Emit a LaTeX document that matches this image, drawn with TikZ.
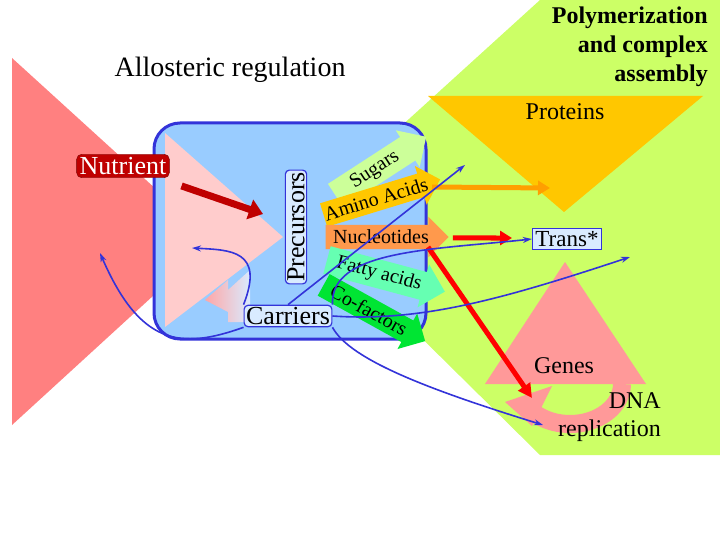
\documentclass[tikz,border=0pt]{standalone}
\usepackage{fontspec}
\setmainfont{Liberation Serif}
\usetikzlibrary{shapes.arrows,arrows.meta,shadings}
\definecolor{bblue}{rgb}{0.2,0.2,0.85}
\definecolor{boxfill}{rgb}{0.6,0.8,1}
\definecolor{lime}{rgb}{0.8,1,0.4}
\definecolor{redtri}{rgb}{1,0.5,0.5}
\definecolor{pinktri}{rgb}{1,0.8,0.8}
\definecolor{genes}{rgb}{1,0.6,0.6}
\definecolor{prot}{rgb}{1,0.78,0}
\definecolor{dred}{rgb}{0.75,0,0}
\definecolor{lbox}{rgb}{0.85,0.92,1}
\tikzset{
  fat/.style={single arrow, single arrow head extend=8pt, inner xsep=1pt, inner ysep=5pt, font=\fontsize{20}{20}\selectfont, anchor=center},
  lbl/.style={draw=bblue, line width=1.2pt, fill=lbox, inner sep=2pt, font=\fontsize{26}{26}\selectfont},
  blue arr/.style={draw=bblue, line width=1.6pt, -{Stealth[length=9pt,width=6pt]}},
  txt/.style={font=\fontsize{28}{28}\selectfont, inner sep=0pt}
}
\begin{document}
\begin{tikzpicture}[x=1pt,y=-1pt]
\useasboundingbox (0,0) rectangle (720,540);
\fill[white] (0,0) rectangle (720,540);
% backgrounds
\fill[lime] (540,0) -- (720,0) -- (720,455) -- (540,455) -- (300,218) -- cycle;
\fill[redtri] (12,58) -- (12,425) -- (213,241) -- cycle;
\fill[prot] (428,96) -- (703,96) -- (564,212) -- cycle;
\fill[genes] (565,262) -- (646,384) -- (485,384) -- cycle;
% DNA replication circular arrow
\draw[genes, line width=18pt] (622,384) arc[start angle=0, end angle=-160, x radius=52pt, y radius=40pt];
\fill[genes] (505,402) -- (552,386) -- (532,426) -- cycle;
% box
\node[draw=bblue, line width=3pt, fill=boxfill, rounded corners=26pt, minimum width=272pt, minimum height=216pt] (box) at (290,231) {};
\fill[pinktri] (165,133) -- (165,327) -- (283,237) -- cycle;
% faded arrow
\shade[left color=redtri!70, right color=lbox] (205,300) -- (228,280) -- (228,290) -- (250,270) -- (250,322) -- (228,322) -- (228,312) -- cycle;
% fat arrows
\node[fat, fill={rgb,1:red,0.8;green,1;blue,0.6}, minimum height=108pt, rotate=33] (sug) at (375,170) {Sugars};
\node[fat, fill=prot, minimum height=117pt, rotate=17] (amino) at (376,199) {Amino Acids};
\node[fat, fill={rgb,1:red,1;green,0.6;blue,0.3}, minimum height=123pt] (nuc) at (381,237) {Nucleotides};
\node[fat, fill={rgb,1:red,0.4;green,1;blue,0.7}, minimum height=122pt, rotate=-15] (fatty) at (379,274) {Fatty acids};
\node[fat, fill={rgb,1:red,0;green,0.9;blue,0.2}, minimum height=116pt, rotate=-29] (cof) at (369,310) {Co-factors};
% label nodes
\node[lbl, rotate=90, minimum width=110pt, rounded corners=4pt] (prec) at (296,227) {Precursors};
\node[lbl, rounded corners=4pt] (carr) at (288,316) {Carriers};
\node[draw=dred!60!black, fill=dred, text=white, rounded corners=5pt, inner sep=3pt, font=\fontsize{26}{26}\selectfont] (nut) at (123,166) {Nutrient};
\node[lbl, font=\fontsize{23}{23}\selectfont, inner sep=3pt] (trans) at (567,239) {Trans*};
% texts
\node[txt] (allo) at (230,70) {Allosteric regulation};
\node[txt, font=\bfseries\fontsize{24}{29}\selectfont, align=right, anchor=north east] (poly) at (708,7) {Polymerization\\and complex\\assembly};
\node[txt, font=\fontsize{24}{24}\selectfont] (prots) at (565,112) {Proteins};
\node[txt, font=\fontsize{24}{24}\selectfont] (genest) at (564,366) {Genes};
\node[txt, font=\fontsize{24}{28}\selectfont, align=right, anchor=north east] (dna) at (661,392) {DNA\\replication};
% coordinates
\coordinate (nutend) at (263,214);
\coordinate (transin) at (512,238);
\coordinate (dnain) at (532,398);
\coordinate (ambeg) at (432,187);
\coordinate (protin) at (550,188);
\coordinate (b1) at (465,165);
\coordinate (b3) at (630,257);
\coordinate (b4) at (543,425);
\coordinate (b5) at (192,248);
\coordinate (b6) at (100,253);
% thick arrows
\draw[dred, line width=7pt, -{Triangle[length=14pt,width=20pt]}] (nut.south east) ++(12,8) -- (nutend);
\draw[prot!80!red, line width=5pt, -{Triangle[length=12pt,width=14pt]}] (ambeg) -- (protin);
\draw[red, line width=5pt, -{Triangle[length=12pt,width=14pt]}] (nuc.east) ++(4,1) -- (transin);
\draw[red, line width=5pt, -{Triangle[length=14pt,width=14pt]}] (428,247) -- (dnain);
% blue arrows
\draw[blue arr] (carr.north) -- (b1);
\draw[blue arr] (carr.north east) .. controls (330,250) and (430,250) .. (trans.west);
\draw[blue arr] (carr.east) .. controls (420,322) and (500,300) .. (b3);
\draw[blue arr] (carr.south east) .. controls (350,360) and (430,390) .. (b4);
\draw[blue arr] (carr.north west) .. controls (265,250) and (230,250) .. (b5);
\draw[blue arr] (carr.south west) .. controls (180,350) and (140,345) .. (b6);
\end{tikzpicture}
\end{document}
